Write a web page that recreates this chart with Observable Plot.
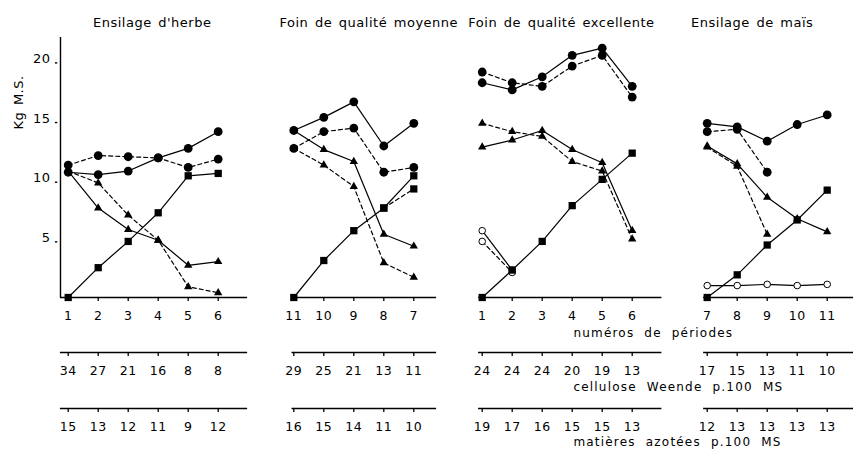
<!DOCTYPE html>
<html>
<head>
<meta charset="utf-8">
<script src="https://cdn.jsdelivr.net/npm/d3@7"></script>
<script src="https://cdn.jsdelivr.net/npm/@observablehq/plot@0.6"></script>
<style>
  html, body { margin: 0; padding: 0; background: #fff; }
  #chart svg text { letter-spacing: 0.5px; word-spacing: 2px; }
</style>
</head>
<body>
<div id="chart"></div>
<script>
// Regimes (one panel each)
const titles = ["Ensilage d'herbe", "Foin de qualité moyenne", "Foin de qualité excellente", "Ensilage de maïs"];

// Period numbers and forage composition under each period
const periods = [[1, 2, 3, 4, 5, 6], [11, 10, 9, 8, 7], [1, 2, 3, 4, 5, 6], [7, 8, 9, 10, 11]];
const celluloseWeende = [[34, 27, 21, 16, 8, 8], [29, 25, 21, 13, 11], [24, 24, 24, 20, 19, 13], [17, 15, 13, 11, 10]];
const matieresAzotees = [[15, 13, 12, 11, 9, 12], [16, 15, 14, 11, 10], [19, 17, 16, 15, 15, 13], [12, 13, 13, 13, 13]];
const rowTitles = ["numéros de périodes", "cellulose Weende p.100 MS", "matières azotées p.100 MS"];

// Kg M.S. per period, one array per panel (null = no value)
const circlesSolid = [[10.5, 10.3, 10.6, 11.7, 12.5, 13.9], [14.0, 15.1, 16.4, 12.7, 14.6], [18.0, 17.4, 18.5, 20.3, 20.9, 17.7], [14.6, 14.3, 13.1, 14.5, 15.3]];
const circlesDashed = [[11.1, 11.9, 11.8, 11.7, 10.9, 11.6], [12.5, 13.9, 14.2, 10.5, 10.9], [18.9, 18.0, 17.7, 19.4, 20.3, 16.8], [13.9, 14.1, 10.5]];
const trianglesSolid = [[10.6, 7.5, 5.7, 4.8, 2.7, 3.0], [14.0, 12.4, 11.4, 5.3, 4.3], [12.6, 13.2, 14.0, 12.4, 11.3, 5.6], [12.7, 11.2, 8.4, 6.6, 5.5]];
const trianglesDashed = [[10.6, 9.6, 6.9, 4.8, 0.9, 0.4], [12.5, 11.1, 9.3, 2.9, 1.7], [14.6, 13.9, 13.5, 11.4, 10.6, 4.9], [12.6, 11.0, 5.3]];
const squaresSolid = [[0, 2.5, 4.7, 7.1, 10.2, 10.4], [0, 3.1, 5.6, 7.5, 10.2], [0, 2.3, 4.7, 7.7, 9.9, 12.1], [0, 1.9, 4.4, 6.5, 9.0]];
const squaresDashed = [[], [null, null, null, 7.5, 9.1], [], []];
const openSolid = [[], [], [5.6, 2.3], [1.0, 1.0, 1.1, 1.0, 1.1]];
const openDashed = [[], [], [4.7, 2.1], []];

const yTicks = [5, 10, 15, 20];

// Layout: horizontal offset of each panel on the shared x scale (1 unit = one period)
const offsets = [0, 7.52, 13.8, 21.3];
const axisFrom = [-0.26, -0.06, -0.12, -0.12];
const axisTo = [5.98, 4.76, 5.99, 5.3];
const titleX = [2.8, 2.5, 2.64, 1.5];
const yAxisX = -0.257;
const pxPerUnit = (297 - 58.4) / 20;
const tickLen = 4 / pxPerUnit;

const panelIdx = titles.map((_, i) => i);

function points(series) {
  return series.flatMap((vals, p) =>
    vals.map((v, i) => ({panel: p, x: offsets[p] + i, y: v})).filter(d => d.y != null));
}
function labels(rows) {
  return rows.flatMap((vals, p) => vals.map((t, i) => ({x: offsets[p] + i, text: String(t)})));
}

const solid = [circlesSolid, trianglesSolid, squaresSolid, openSolid];
const dashed = [circlesDashed, trianglesDashed, squaresDashed, openDashed];

const lineStyle = {x: "x", y: "y", z: "panel", stroke: "black", strokeWidth: 1.2};

const marks = [];

// connecting lines
for (const s of solid) marks.push(Plot.line(points(s), lineStyle));
for (const s of dashed) marks.push(Plot.line(points(s), {...lineStyle, strokeDasharray: "4,3"}));

// markers
marks.push(Plot.dot(points(openSolid).concat(points(openDashed)), {x: "x", y: "y", r: 3.3, fill: "white", stroke: "black", strokeWidth: 1}));
marks.push(Plot.dot(points(squaresSolid).concat(points(squaresDashed)), {x: "x", y: "y", symbol: "square", r: 4.1, fill: "black"}));
marks.push(Plot.dot(points(circlesSolid).concat(points(circlesDashed)), {x: "x", y: "y", symbol: "circle", r: 4.4, fill: "black"}));
marks.push(Plot.dot(points(trianglesSolid).concat(points(trianglesDashed)), {x: "x", y: "y", symbol: "triangle", r: 3.1, fill: "black"}));

// y axis
marks.push(Plot.ruleX([yAxisX], {y1: 0, y2: 21.8, stroke: "black", strokeWidth: 1.4}));
marks.push(Plot.ruleY(yTicks, {y: d => d, x1: yAxisX - 0.17, x2: yAxisX - 0.09, dy: 4, stroke: "black", strokeWidth: 1.4}));
marks.push(Plot.text(yTicks, {x: yAxisX, y: d => d, text: d => String(d), dx: -10, textAnchor: "end", fontSize: 13}));
marks.push(Plot.text(["Kg M.S."], {x: yAxisX, y: 16.35, dx: -42, rotate: -90, fontSize: 13}));

// three rows under the panels: periods, cellulose, nitrogen
const rows = [
  {values: periods, lineDy: 0, labelDy: 18, titleDy: 36},
  {values: celluloseWeende, lineDy: 55, labelDy: 73, titleDy: 90},
  {values: matieresAzotees, lineDy: 111, labelDy: 129, titleDy: 145}
];
rows.forEach((row, r) => {
  marks.push(Plot.ruleY(panelIdx, {y: 0, x1: p => offsets[p] + axisFrom[p], x2: p => offsets[p] + axisTo[p], dy: row.lineDy, stroke: "black", strokeWidth: 1.4}));
  const lab = labels(row.values);
  marks.push(Plot.ruleX(lab, {x: "x", y1: 0, y2: -tickLen, dy: row.lineDy, stroke: "black", strokeWidth: 1.3}));
  marks.push(Plot.text(lab, {x: "x", y: 0, text: "text", dy: row.labelDy, fontSize: 12.5}));
  marks.push(Plot.text([rowTitles[r]], {x: 16.84, y: 0, text: d => d, dy: row.titleDy, textAnchor: "start", fontSize: 12}));
});

// panel titles
marks.push(Plot.text(titles, {x: (d, i) => offsets[i] + titleX[i], y: 20, text: d => d, dy: -36, fontSize: 13}));

const chart = Plot.plot({
  width: 853,
  height: 451,
  marginTop: 0, marginRight: 0, marginBottom: 0, marginLeft: 0,
  style: {fontFamily: "DejaVu Sans", color: "black", background: "white"},
  x: {domain: [0, 26], range: [67.7, 847.7], axis: null},
  y: {domain: [0, 20], range: [297, 58.4], axis: null},
  marks
});

// wider spacing for the row titles
d3.select(chart).selectAll("text")
  .filter(function () { return rowTitles.includes(this.textContent); })
  .style("letter-spacing", "1.2px")
  .style("word-spacing", "5px");

document.getElementById("chart").appendChild(chart);
</script>
</body>
</html>
